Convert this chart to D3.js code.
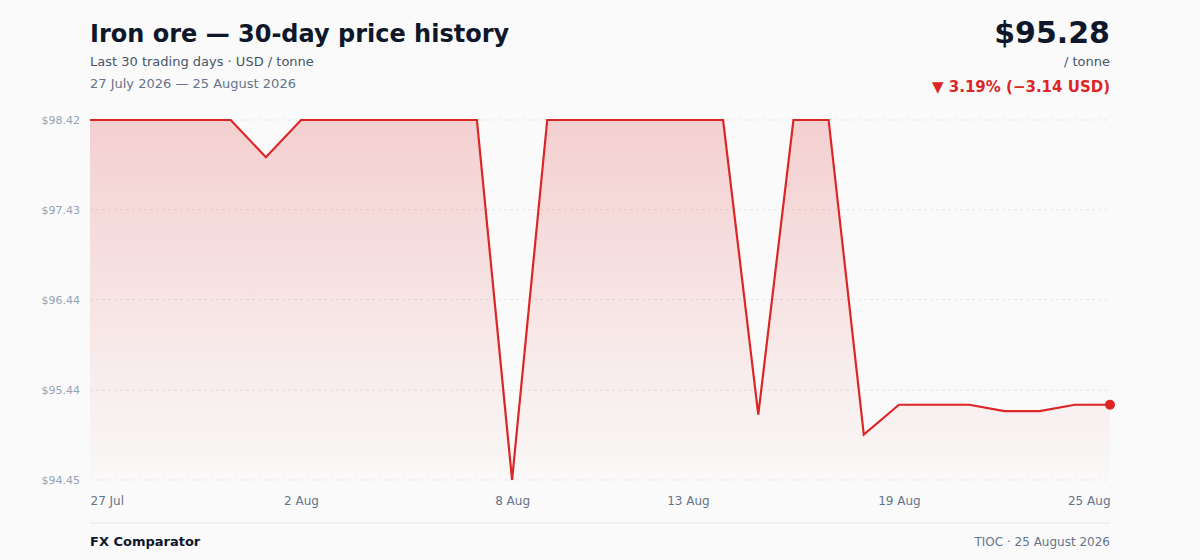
<!DOCTYPE html>
<html><head><meta charset="utf-8">
<script src="https://cdn.jsdelivr.net/npm/d3@7/dist/d3.min.js"></script>
<style>
html,body{margin:0;padding:0;background:#fafafa;}
svg{display:block;font-family:"DejaVu Sans",sans-serif;}
</style></head>
<body>
<svg id="chart" width="1200" height="560"></svg>
<script>
const dates = ["2026-07-27","2026-07-28","2026-07-29","2026-07-30","2026-07-31","2026-08-01","2026-08-02","2026-08-03","2026-08-04","2026-08-05","2026-08-06","2026-08-07","2026-08-08","2026-08-09","2026-08-10","2026-08-11","2026-08-12","2026-08-13","2026-08-14","2026-08-15","2026-08-16","2026-08-17","2026-08-18","2026-08-19","2026-08-20","2026-08-21","2026-08-22","2026-08-23","2026-08-24","2026-08-25"];
const prices = [98.42,98.42,98.42,98.42,98.42,98.01,98.42,98.42,98.42,98.42,98.42,98.42,94.45,98.42,98.42,98.42,98.42,98.42,98.42,95.17,98.42,98.42,94.95,95.28,95.28,95.28,95.21,95.21,95.28,95.28];
const xTickDates = ["2026-07-27","2026-08-02","2026-08-08","2026-08-13","2026-08-19","2026-08-25"];
const yTickValues = [94.45,95.44,96.44,97.43,98.42];

(function(){
const parse = d3.timeParse("%Y-%m-%d");
const data = dates.map((d,i)=>({date:parse(d), value:prices[i]}));

const svg = d3.select("#chart");
const mLeft=90, mRight=1110, mTop=120, mBottom=480;
const red="#dc2626";

const x = d3.scaleTime().domain(d3.extent(data,d=>d.date)).range([mLeft,mRight]);
const y = d3.scaleLinear().domain([d3.min(prices), d3.max(prices)]).range([mBottom,mTop]);

const defs = svg.append("defs");
const grad = defs.append("linearGradient").attr("id","fillGrad").attr("x1",0).attr("y1",0).attr("x2",0).attr("y2",1);
grad.append("stop").attr("offset","0%").attr("stop-color",red).attr("stop-opacity",0.2);
grad.append("stop").attr("offset","100%").attr("stop-color",red).attr("stop-opacity",0.01);

const yAxis = d3.axisLeft(y).tickValues(yTickValues).tickSize(0).tickPadding(10).tickFormat(d=>"$"+d.toFixed(2));
const gy = svg.append("g").attr("transform",`translate(${mLeft},0)`).call(yAxis);
gy.select(".domain").remove();
gy.selectAll("text").attr("fill","#94a3b8").style("font-size","11px").style("font-family","DejaVu Sans");
svg.append("g").selectAll("line").data(yTickValues).join("line")
  .attr("x1",mLeft).attr("x2",mRight).attr("y1",d=>y(d)).attr("y2",d=>y(d))
  .attr("stroke","#e5e7eb").attr("stroke-dasharray","3,3").attr("stroke-width",1);

const area = d3.area().x(d=>x(d.date)).y0(mBottom).y1(d=>y(d.value));
svg.append("path").datum(data).attr("d",area).attr("fill","url(#fillGrad)");
const line = d3.line().x(d=>x(d.date)).y(d=>y(d.value));
svg.append("path").datum(data).attr("d",line).attr("fill","none").attr("stroke",red).attr("stroke-width",2.2).attr("stroke-linejoin","miter");
const last = data[data.length-1];
svg.append("circle").attr("cx",x(last.date)).attr("cy",y(last.value)).attr("r",5).attr("fill",red);

const fmt = d3.timeFormat("%-d %b");
const xAxis = d3.axisBottom(x).tickValues(xTickDates.map(parse)).tickSize(0).tickPadding(0).tickFormat(fmt);
const gx = svg.append("g").attr("transform",`translate(0,${mBottom+25})`).call(xAxis);
gx.select(".domain").remove();
gx.selectAll("text").attr("fill","#64748b").style("font-size","12px").style("font-family","DejaVu Sans").attr("dy","0")
  .attr("text-anchor",(d,i,n)=> i===0?"start":(i===n.length-1?"end":"middle"));

svg.append("text").attr("x",90).attr("y",42).text("Iron ore — 30-day price history")
  .attr("fill","#0f172a").style("font-size","24px").style("font-weight","bold");
svg.append("text").attr("x",90).attr("y",66).text("Last 30 trading days · USD / tonne")
  .attr("fill","#475569").style("font-size","13px");
svg.append("text").attr("x",90).attr("y",88).text("27 July 2026 — 25 August 2026")
  .attr("fill","#64748b").style("font-size","13px");

const first = data[0].value;
const chg = last.value-first, pct = chg/first*100;
svg.append("text").attr("x",1110).attr("y",43).attr("text-anchor","end").text("$"+last.value.toFixed(2))
  .attr("fill","#0f172a").style("font-size","30px").style("font-weight","bold");
svg.append("text").attr("x",1110).attr("y",66).attr("text-anchor","end").text("/ tonne")
  .attr("fill","#475569").style("font-size","13px");
svg.append("text").attr("x",1110).attr("y",92).attr("text-anchor","end")
  .text(`▼ ${Math.abs(pct).toFixed(2)}% (−${Math.abs(chg).toFixed(2)} USD)`)
  .attr("fill",red).style("font-size","15px").style("font-weight","bold");

svg.append("line").attr("x1",90).attr("x2",1110).attr("y1",523).attr("y2",523).attr("stroke","#e5e7eb");
svg.append("text").attr("x",90).attr("y",546).text("FX Comparator").attr("fill","#0f172a").style("font-size","13px").style("font-weight","bold");
svg.append("text").attr("x",1110).attr("y",546).attr("text-anchor","end").text("TIOC · 25 August 2026").attr("fill","#64748b").style("font-size","12px");
})();
</script>
</body></html>
